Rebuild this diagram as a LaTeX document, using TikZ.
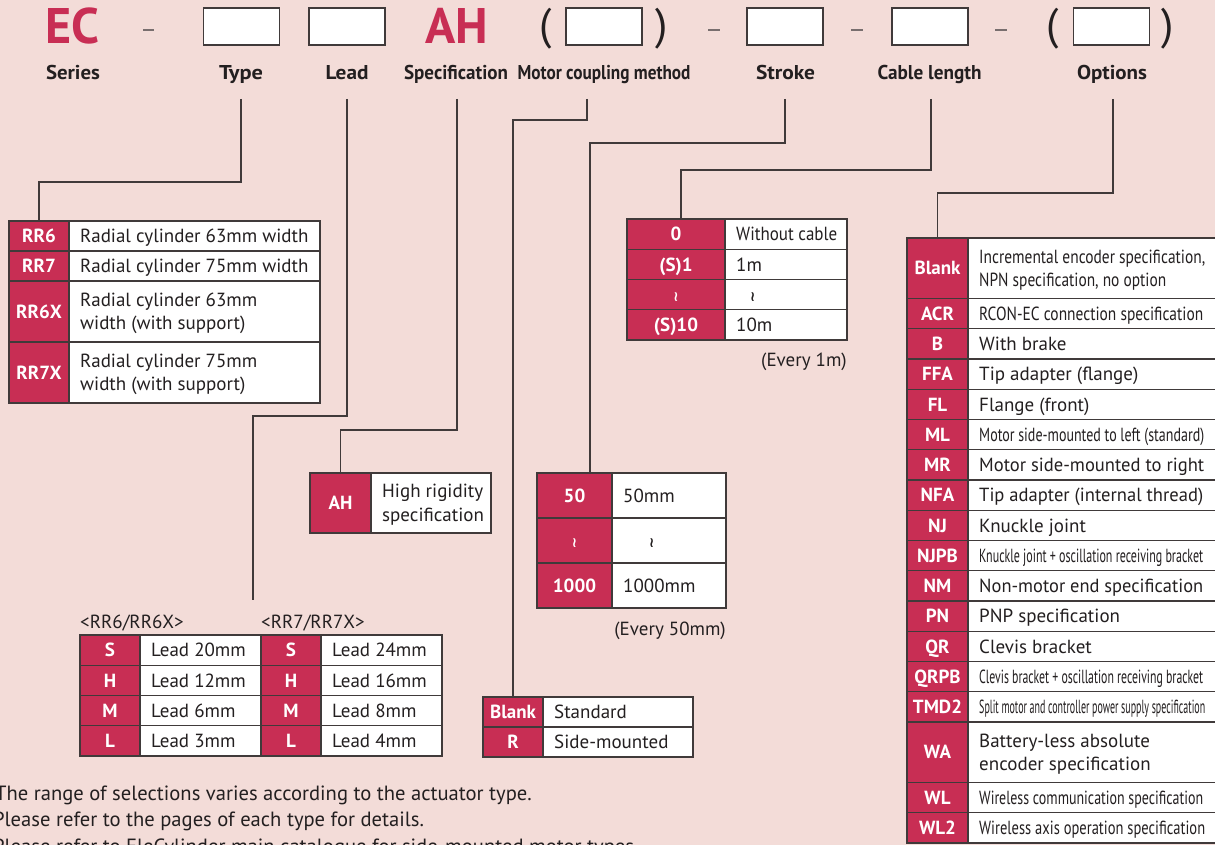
\documentclass[tikz,border=0pt]{standalone}
\usepackage{fontspec}
\usepackage{graphicx}
\setmainfont{PT Sans}
\newfontfamily\symfont{DejaVu Sans}
\definecolor{bg}{RGB}{243,220,216}
\definecolor{codered}{RGB}{200,46,84}
\definecolor{tabline}{RGB}{64,58,58}
\definecolor{txt}{RGB}{35,31,32}
\definecolor{dashc}{RGB}{120,110,110}
\newcommand\cs{\rule[-5pt]{0pt}{23.3pt}}
\newsavebox\fitbox
\newcommand\fitw[2]{\sbox\fitbox{#2}\pgfmathsetmacro\fitsx{#1/\the\wd\fitbox}\scalebox{\fitsx}[1]{\usebox\fitbox}}
\newcommand\wavy{{\symfont\bfseries\fontsize{14}{14}\selectfont ≀}}
\tikzset{
 codecell/.style={fill=codered,draw=tabline,line width=1.1pt,outer sep=0pt,text=white,font=\fontsize{19}{22}\selectfont\bfseries,inner sep=0pt,anchor=north west,align=center},
 desccell/.style={fill=white,draw=tabline,line width=1.1pt,outer sep=0pt,inner sep=0pt,anchor=north west},
 desctext/.style={anchor=west,align=left,inner sep=0pt,text=txt,font=\fontsize{19}{23.5}\selectfont},
 conn/.style={draw=tabline,line width=1.2pt},
 hdr/.style={anchor=base,inner sep=0pt,text=txt,font=\fontsize{20}{22}\selectfont\bfseries},
 bigred/.style={anchor=base,inner sep=0pt,text=codered,font=\fontsize{50}{50}\selectfont\bfseries},
 slot/.style={fill=white,draw=tabline,line width=1.2pt,minimum width=76pt,minimum height=37pt,inner sep=0pt},
 paren/.style={inner sep=0pt,text=txt,font=\fontsize{44}{44}\selectfont},
 dashmark/.style={draw=dashc,line width=1.3pt},
 note/.style={anchor=base west,inner sep=0pt,text=txt,font=\fontsize{19}{23}\selectfont},
 bignote/.style={anchor=base west,inner sep=0pt,text=txt,font=\fontsize{20.6}{24}\selectfont},
}
% name, x, y, codew, descw, h, code, desc
\newcommand\tabrow[8]{%
 \node[codecell,minimum width=#4pt,minimum height=#6pt] (#1c) at (#2,#3) {\cs#7};
 \node[desccell,minimum width=#5pt,minimum height=#6pt] (#1d) at (#1c.north east) {};
 \node[desctext] (#1t) at ([xshift=11pt]#1d.west) {\cs#8\cs};}
% name, previous, codew, descw, h, code, desc
\newcommand\nextrow[7]{%
 \node[codecell,minimum width=#3pt,minimum height=#5pt] (#1c) at (#2c.south west) {\cs#6};
 \node[desccell,minimum width=#4pt,minimum height=#5pt] (#1d) at (#1c.north east) {};
 \node[desctext] (#1t) at ([xshift=11pt]#1d.west) {\cs#7\cs};}
\begin{document}
\begin{tikzpicture}[x=1pt,y=-1pt]
\useasboundingbox (0,0) rectangle (1215,845);
\clip (0,0) rectangle (1215,845);
\fill[bg] (0,0) rectangle (1215,845);

% ---- header row
\node[bigred] (ec) at (72.5,44) {EC};
\draw[dashmark] (143,30) -- (154,30);
\node[slot] (bType) at (241.5,26.5) {};
\node[slot] (bLead) at (347,26.5) {};
\node[bigred] (ah) at (457,44) {AH};
\node[paren] (p1) at (546,29) {(};
\node[slot] (bMotor) at (604,26.5) {};
\node[paren] (p2) at (662,29) {)};
\draw[dashmark] (708,30) -- (720,30);
\node[slot] (bStroke) at (785,26.5) {};
\draw[dashmark] (851,30) -- (863,30);
\node[slot] (bCable) at (930,26.5) {};
\draw[dashmark] (995,30) -- (1007,30);
\node[paren] (p3) at (1053,29) {(};
\node[slot] (bOpt) at (1111.5,26.5) {};
\node[paren] (p4) at (1168,29) {)};

\node[hdr] (lSeries) at (73,80) {\fitw{54}{Series}};
\node[hdr] (lType) at (241,80) {\fitw{44}{Type}};
\node[hdr] (lLead) at (347,80) {\fitw{43}{Lead}};
\node[hdr] (lSpec) at (456,80) {\fitw{104}{Specification}};
\node[hdr] (lMotor) at (604,80) {\fitw{173}{Motor coupling method}};
\node[hdr] (lStroke) at (785.5,80) {\fitw{59}{Stroke}};
\node[hdr] (lCable) at (929.5,80) {\fitw{104}{Cable length}};
\node[hdr] (lOpt) at (1112,80) {\fitw{70}{Options}};

% ---- Type table
\tabrow{ty1}{9}{221}{60}{251}{30}{RR6}{Radial cylinder 63mm width}
\nextrow{ty2}{ty1}{60}{251}{30}{RR7}{Radial cylinder 75mm width}
\nextrow{ty3}{ty2}{60}{251}{61}{RR6X}{Radial cylinder 63mm\\width (with support)}
\nextrow{ty4}{ty3}{60}{251}{61}{RR7X}{Radial cylinder 75mm\\width (with support)}

% ---- Lead tables
\node[note] (lab6) at (80,628) {<RR6/RR6X>};
\node[note] (lab7) at (261,628) {<RR7/RR7X>};
\tabrow{la1}{80}{635}{60}{121}{30.25}{S}{Lead 20mm}
\nextrow{la2}{la1}{60}{121}{30.25}{H}{Lead 12mm}
\nextrow{la3}{la2}{60}{121}{30.25}{M}{Lead 6mm}
\nextrow{la4}{la3}{60}{121}{30.25}{L}{Lead 3mm}
\tabrow{lb1}{261}{635}{60}{121}{30.25}{S}{Lead 24mm}
\nextrow{lb2}{lb1}{60}{121}{30.25}{H}{Lead 16mm}
\nextrow{lb3}{lb2}{60}{121}{30.25}{M}{Lead 8mm}
\nextrow{lb4}{lb3}{60}{121}{30.25}{L}{Lead 4mm}

% ---- Specification table
\tabrow{ah}{310}{473}{61}{120}{60}{AH}{High rigidity\\specification}

% ---- Stroke table
\tabrow{st1}{537}{473}{75}{114}{45}{50}{50mm}
\nextrow{st2}{st1}{75}{114}{45}{\wavy}{\hspace*{26pt}\wavy}
\nextrow{st3}{st2}{75}{114}{45}{1000}{1000mm}
\node[note,anchor=base east] (ev50) at ([yshift=-27pt]st3d.south east) {(Every 50mm)};

% ---- Motor coupling table
\tabrow{mo1}{483}{697}{60}{150}{30}{Blank}{Standard}
\nextrow{mo2}{mo1}{60}{150}{30}{R}{Side-mounted}

% ---- Cable length table
\tabrow{ca1}{627}{219}{98}{122}{30.25}{0}{\fitw{101}{Without cable}}
\nextrow{ca2}{ca1}{98}{122}{30.25}{(S)1}{1m}
\nextrow{ca3}{ca2}{98}{122}{30.25}{\wavy}{\hspace*{14pt}\wavy}
\nextrow{ca4}{ca3}{98}{122}{30.25}{(S)10}{10m}
\node[note,anchor=base east] (ev1) at ([yshift=-26pt]ca4d.south east) {(Every 1m)};

% ---- Options table
\tabrow{o1}{907}{238}{61}{307}{60.5}{Blank}{\fitw{226}{Incremental encoder specification,}\\\fitw{187}{NPN specification, no option}}
\nextrow{o2}{o1}{61}{307}{30.25}{ACR}{\fitw{224}{RCON-EC connection specification}}
\nextrow{o3}{o2}{61}{307}{30.25}{B}{With brake}
\nextrow{o4}{o3}{61}{307}{30.25}{FFA}{Tip adapter (flange)}
\nextrow{o5}{o4}{61}{307}{30.25}{FL}{Flange (front)}
\nextrow{o6}{o5}{61}{307}{30.25}{ML}{\fitw{225}{Motor side-mounted to left (standard)}}
\nextrow{o7}{o6}{61}{307}{30.25}{MR}{\fitw{225}{Motor side-mounted to right}}
\nextrow{o8}{o7}{61}{307}{30.25}{NFA}{\fitw{224}{Tip adapter (internal thread)}}
\nextrow{o9}{o8}{61}{307}{30.25}{NJ}{Knuckle joint}
\nextrow{o10}{o9}{61}{307}{30.25}{NJPB}{\fitw{224}{Knuckle joint + oscillation receiving bracket}}
\nextrow{o11}{o10}{61}{307}{30.25}{NM}{\fitw{224}{Non-motor end specification}}
\nextrow{o12}{o11}{61}{307}{30.25}{PN}{PNP specification}
\nextrow{o13}{o12}{61}{307}{30.25}{QR}{Clevis bracket}
\nextrow{o14}{o13}{61}{307}{30.25}{QRPB}{\fitw{224}{Clevis bracket + oscillation receiving bracket}}
\nextrow{o15}{o14}{61}{307}{30.25}{TMD2}{\fitw{226}{Split motor and controller power supply specification}}
\nextrow{o16}{o15}{61}{307}{60.5}{WA}{Battery-less absolute\\encoder specification}
\nextrow{o17}{o16}{61}{307}{30.25}{WL}{\fitw{224}{Wireless communication specification}}
\nextrow{o18}{o17}{61}{307}{30.25}{WL2}{\fitw{226}{Wireless axis operation specification}}

% ---- connectors
\coordinate (cT0) at (241,99);   \coordinate (cT1) at (241,182);
\draw[conn] (cT0) -- (cT1) -| (ty1c.north);
\coordinate (cL0) at (347,99);   \coordinate (cL1) at (347,416);
\coordinate (cL2) at (253,600);
\draw[conn] (cL0) -- (cL1) -| (cL2);
\coordinate (cP0) at (457,99);   \coordinate (cP1) at (457,430);
\draw[conn] (cP0) -- (cP1) -| (ahc.north);
\coordinate (cM0) at (587,99);   \coordinate (cM1) at (587,120);
\draw[conn] (cM0) -- (cM1) -| (mo1c.north);
\coordinate (cS0) at (785,99);   \coordinate (cS1) at (785,143);
\coordinate (cS2) at ([xshift=53pt]st1c.north west);
\draw[conn] (cS0) -- (cS1) -| (cS2);
\coordinate (cC0) at (931,99);   \coordinate (cC1) at (931,170);
\coordinate (cC2) at ([xshift=54pt]ca1c.north west);
\draw[conn] (cC0) -- (cC1) -| (cC2);
\coordinate (cO0) at (1113,99);  \coordinate (cO1) at (1113,193);
\draw[conn] (cO0) -- (cO1) -| (o1c.north);

% ---- notes
\node[bignote] (n1) at (-5,800) {The range of selections varies according to the actuator type.};
\node[bignote] (n2) at (-7,826) {Please refer to the pages of each type for details.};
\node[bignote] (n3) at (-7,853) {Please refer to EleCylinder main catalogue for side-mounted motor types.};
\end{tikzpicture}
\end{document}
